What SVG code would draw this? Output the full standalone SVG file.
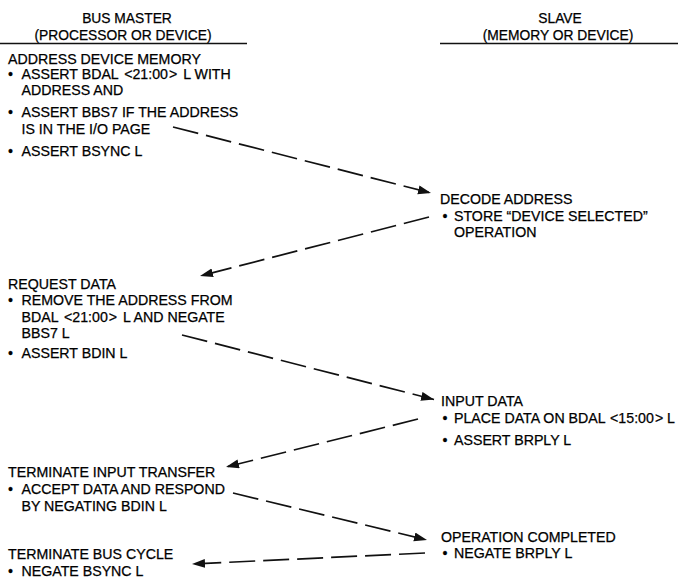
<svg xmlns="http://www.w3.org/2000/svg" width="681" height="578" viewBox="0 0 681 578">
  <style>
    text { font-family: "Liberation Sans", Arial, Helvetica, sans-serif; font-size: 14.2px; fill: #000; stroke: #000; stroke-width: 0.25; }
    .hdr { font-size: 13.8px; text-anchor: middle; }
    .rule { stroke: #111; stroke-width: 1.7; }
    .flow { stroke: #111; stroke-width: 1.7; fill: none; stroke-dasharray: 26 8; }
  </style>
  <defs>
    <marker id="head" markerUnits="userSpaceOnUse" markerWidth="14" markerHeight="10" refX="13" refY="4.5" orient="auto">
      <path d="M0,0 L13,4.5 L0,9 z" fill="#111"/>
    </marker>
  </defs>

  <!-- column headings -->
  <g id="master-heading">
    <text class="hdr" x="127" y="23">BUS MASTER</text>
    <text class="hdr" x="123" y="39.5">(PROCESSOR OR DEVICE)</text>
    <line class="rule" x1="0" y1="43.5" x2="247" y2="43.5"/>
  </g>
  <g id="slave-heading">
    <text class="hdr" x="560" y="23">SLAVE</text>
    <text class="hdr" x="558" y="39.5">(MEMORY OR DEVICE)</text>
    <line class="rule" x1="440" y1="43.5" x2="678" y2="43.5"/>
  </g>

  <!-- bus master steps -->
  <g id="address-device-memory">
    <text x="8" y="63.5">ADDRESS DEVICE MEMORY</text>
    <text x="8" y="78.5">•</text>
    <text x="21.5" y="78.5">ASSERT BDAL <tspan dx="2">&lt;</tspan>21:00<tspan dx="1">&gt;</tspan><tspan dx="2"> L WITH</tspan></text>
    <text x="21.5" y="95">ADDRESS AND</text>
    <text x="8" y="117">•</text>
    <text x="21.5" y="117">ASSERT BBS7 IF THE ADDRESS</text>
    <text x="21.5" y="133.5">IS IN THE I/O PAGE</text>
    <text x="8" y="155.5">•</text>
    <text x="21.5" y="155.5">ASSERT BSYNC L</text>
  </g>

  <g id="request-data">
    <text x="8" y="288.5">REQUEST DATA</text>
    <text x="8" y="305">•</text>
    <text x="21.5" y="305">REMOVE THE ADDRESS FROM</text>
    <text x="21.5" y="321.5">BDAL <tspan dx="2">&lt;</tspan>21:00<tspan dx="1">&gt;</tspan><tspan dx="2"> L AND NEGATE</tspan></text>
    <text x="21.5" y="337.5">BBS7 L</text>
    <text x="8" y="358">•</text>
    <text x="21.5" y="358">ASSERT BDIN L</text>
  </g>

  <g id="terminate-input-transfer">
    <text x="8" y="477">TERMINATE INPUT TRANSFER</text>
    <text x="8" y="494">•</text>
    <text x="21.5" y="494">ACCEPT DATA AND RESPOND</text>
    <text x="21.5" y="511">BY NEGATING BDIN L</text>
  </g>

  <g id="terminate-bus-cycle">
    <text x="8" y="559">TERMINATE BUS CYCLE</text>
    <text x="8" y="575.5">•</text>
    <text x="21.5" y="575.5">NEGATE BSYNC L</text>
  </g>

  <!-- slave steps -->
  <g id="decode-address">
    <text x="440" y="203.5">DECODE ADDRESS</text>
    <text x="442.5" y="221">•</text>
    <text x="454" y="221">STORE “DEVICE SELECTED”</text>
    <text x="454" y="237">OPERATION</text>
  </g>

  <g id="input-data">
    <text x="441" y="406">INPUT DATA</text>
    <text x="442.5" y="423">•</text>
    <text x="454" y="423">PLACE DATA ON BDAL <tspan dx="1">&lt;</tspan>15:00<tspan dx="1">&gt;</tspan> L</text>
    <text x="442.5" y="444.5">•</text>
    <text x="454" y="444.5">ASSERT BRPLY L</text>
  </g>

  <g id="operation-completed">
    <text x="441" y="542">OPERATION COMPLETED</text>
    <text x="442.5" y="558">•</text>
    <text x="454" y="558">NEGATE BRPLY L</text>
  </g>

  <!-- handshake connectors -->
  <g id="connectors">
    <line class="flow" x1="173" y1="127" x2="431" y2="193" marker-end="url(#head)"/>
    <line class="flow" x1="429" y1="217" x2="200" y2="276" marker-end="url(#head)"/>
    <line class="flow" x1="182" y1="335" x2="434" y2="399.5" marker-end="url(#head)"/>
    <line class="flow" x1="418" y1="419" x2="226" y2="467" marker-end="url(#head)"/>
    <line class="flow" x1="233" y1="493" x2="427" y2="540" marker-end="url(#head)"/>
    <line class="flow" x1="425" y1="553" x2="192" y2="564" marker-end="url(#head)"/>
  </g>
</svg>
